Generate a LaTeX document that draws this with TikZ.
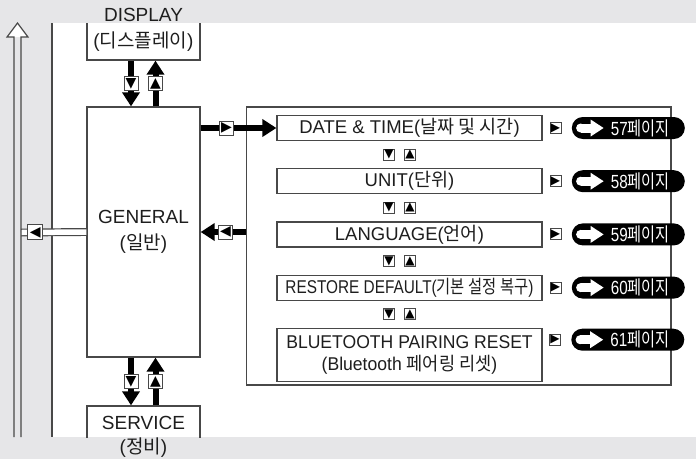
\documentclass[tikz,border=0pt]{standalone}
\usepackage{fontspec}
\usepackage{graphicx}
\setmainfont{Liberation Sans}
\newfontfamily\kr{Noto Sans CJK KR}
\newfontfamily\sym{DejaVu Sans}
\usetikzlibrary{arrows.meta,positioning,calc}
\definecolor{bg}{RGB}{230,230,232}
\definecolor{edge}{RGB}{72,72,72}
\definecolor{ink}{RGB}{30,30,30}
\tikzset{
  unit/.style={draw=edge, line width=1.3pt, minimum width=113pt, inner sep=0pt,
    text=ink, align=center, font=\fontsize{19}{26}\selectfont},
  lbl/.style={inner sep=0pt, text=ink, font=\fontsize{19}{22}\selectfont},
  item/.style={draw=edge, line width=1.2pt, minimum width=265pt, minimum height=25pt,
    inner sep=0pt, text=ink, align=center, font=\fontsize{18.5}{22}\selectfont},
  key/.style={draw=edge, fill=white, line width=1pt, minimum size=11pt, inner sep=0pt,
    font=\sym\fontsize{12}{12}\selectfont},
  bigkey/.style={key, minimum size=14pt, font=\sym\fontsize{14}{14}\selectfont},
  flow/.style={line width=6pt, -{Triangle[width=17pt,length=14pt]}},
  pipe/.style={draw=edge, line width=1.2pt, double=white, double distance=5.5pt},
  pill/.style={fill=black, rounded corners=11pt, minimum width=113pt, minimum height=22pt,
    inner sep=0pt, text=white, font=\fontsize{19}{19}\selectfont},
  pics/pagego/.style={code={
    \fill[white] (9,0) circle[radius=4.5];
    \fill[white] (9,-4.5) rectangle (20,4.5);
    \fill[white] (19,-8.5) -- (32,0) -- (19,8.5) -- cycle;
  }}
}
\newcommand{\pagetxt}[1]{\hspace*{24pt}\scalebox{0.8}[1]{#1{\kr 페이지}}}
\begin{document}
\begin{tikzpicture}[x=1pt, y=-1pt, node distance=27pt]
  \useasboundingbox (0,0) rectangle (696,459);
  \fill[bg] (0,0) rectangle (696,459);
  \fill[white] (52,23) rectangle (696,437);
  \draw[edge, line width=1.3pt] (52,23) -- (52,437);

  \begin{scope}
    \clip (52,23) rectangle (696,437);
    \node[unit, minimum height=50pt] (disp) at (143.5,35) {};
    \node[unit, minimum height=50pt] (serv) at (143.5,431) {};
  \end{scope}
  \node[unit, minimum height=250pt] (gen) at (143.5,232) {GENERAL\\({\kr 일반})};
  \node[lbl] (displbl) at (143.5,15) {DISPLAY};
  \node[lbl] (disptxt) at (143.5,42) {({\kr 디스플레이})};
  \node[lbl] (servlbl) at (143.5,423) {SERVICE};
  \node[lbl] (servtxt) at (143.5,448) {({\kr 정비})};

  \draw[flow] ([xshift=-12.5pt]disp.south) -- node[bigkey] (k1) {▼} ([xshift=-12.5pt]gen.north);
  \draw[flow] ([xshift=12pt]gen.north) -- node[bigkey] (k2) {▲} ([xshift=12pt]disp.south);
  \draw[flow] ([xshift=-12.5pt]gen.south) -- node[bigkey] (k3) {▼} ([xshift=-12.5pt]serv.north);
  \draw[flow] ([xshift=12pt]serv.north) -- node[bigkey] (k4) {▲} ([xshift=12pt]gen.south);

  \node[draw=edge, line width=1.3pt, minimum width=424.5pt, minimum height=278pt, inner sep=0pt] (menu) at (458.75,246) {};
  \node[item] (date) at (409.5,128) {DATE \& TIME({\kr 날짜 및 시간})};
  \node[item, below=of date] (unit) {UNIT({\kr 단위})};
  \node[item, below=of unit] (lang) {LANGUAGE({\kr 언어})};
  \node[item, below=of lang] (rest) {\scalebox{0.83}[1]{RESTORE DEFAULT({\kr 기본 설정 복구})}};
  \node[item, below=of rest, minimum height=53pt] (blue) {\scalebox{0.95}[1]{BLUETOOTH PAIRING RESET}\\\scalebox{0.95}[1]{(Bluetooth {\kr 페어링 리셋})}};

  \node[key] (dn1) at ($(date.south)!0.5!(unit.north)+(-20.5,0)$) {▼};
  \node[key] (up1) at ($(date.south)!0.5!(unit.north)+(0.5,0)$) {▲};
  \node[key] (dn2) at ($(unit.south)!0.5!(lang.north)+(-20.5,0)$) {▼};
  \node[key] (up2) at ($(unit.south)!0.5!(lang.north)+(0.5,0)$) {▲};
  \node[key] (dn3) at ($(lang.south)!0.5!(rest.north)+(-20.5,0)$) {▼};
  \node[key] (up3) at ($(lang.south)!0.5!(rest.north)+(0.5,0)$) {▲};
  \node[key] (dn4) at ($(rest.south)!0.5!(blue.north)+(-20.5,0)$) {▼};
  \node[key] (up4) at ($(rest.south)!0.5!(blue.north)+(0.5,0)$) {▲};

  \node[key, right=7pt of date] (go1) {▶};
  \node[key, right=7pt of unit] (go2) {▶};
  \node[key, right=7pt of lang] (go3) {▶};
  \node[key, right=7pt of rest] (go4) {▶};
  \node[key] (go5) at ([xshift=12.5pt,yshift=-12pt]blue.north east) {▶};
  \node[pill, right=10pt of go1] (p1) {\pagetxt{57}};
  \node[pill, right=10pt of go2] (p2) {\pagetxt{58}};
  \node[pill, right=10pt of go3] (p3) {\pagetxt{59}};
  \node[pill, right=10pt of go4] (p4) {\pagetxt{60}};
  \node[pill, right=10pt of go5] (p5) {\pagetxt{61}};
  \pic at (p1.west) {pagego};
  \pic at (p2.west) {pagego};
  \pic at (p3.west) {pagego};
  \pic at (p4.west) {pagego};
  \pic at (p5.west) {pagego};

  \draw[flow] (gen.east |- date) -- node[pos=0.34, bigkey] (k5) {▶} (date.west);
  \draw[flow] (menu.west |- gen) -- node[pos=0.45, bigkey] (k6) {◀} (gen.east);

  \coordinate (trunk) at (21,232.5);
  \draw[pipe] (trunk) -- node[pos=0.22, bigkey, minimum size=15pt] (k7) {◀} (gen.west);
  \fill[white] (7,37) -- (17.5,23) -- (28,37) -- cycle;
  \draw[edge, line width=1.2pt] (14,437) -- (14,37) -- (7,37) -- (17.5,23) -- (28,37) -- (21,37) -- (21,437);
\end{tikzpicture}
\end{document}
